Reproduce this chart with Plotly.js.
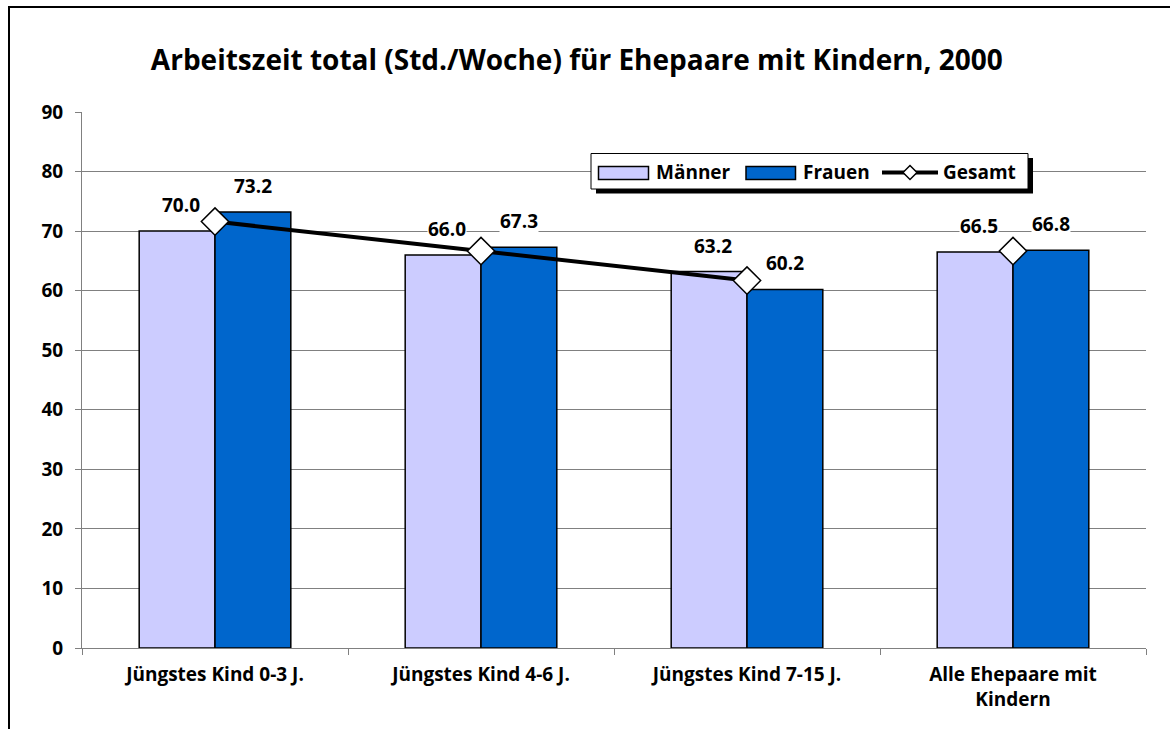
<!DOCTYPE html>
<html><head><meta charset="utf-8">
<script src="https://cdn.plot.ly/plotly-3.0.1.min.js"></script>
<style>body{margin:0;background:#fff}#c{width:1170px;height:729px}</style>
</head><body><div id="c"></div>
<script>
const categories = ["Jüngstes Kind 0-3 J.", "Jüngstes Kind 4-6 J.", "Jüngstes Kind 7-15 J.", "Alle Ehepaare mit<br>Kindern"];
const maenner = [70.0, 66.0, 63.2, 66.5];
const frauen = [73.2, 67.3, 60.2, 66.8];
const gesamt = [71.6, 66.65, 61.7, 66.65];
const yTicks = [0, 10, 20, 30, 40, 50, 60, 70, 80, 90];
const seriesNames = ["Männer", "Frauen", "Gesamt"];
const colMaenner = '#CCCCFF', colFrauen = '#0066CC';

const FONT = "Open Sans, Noto Sans, sans-serif";
const M = {l:82, r:24, t:112, b:81};
const W = 1170, H = 729;
const PW = W - M.l - M.r, PH = H - M.t - M.b;
const px = v => (v - M.l) / PW;
const py = v => (H - M.b - v) / PH;

const traces = [
  {type:'bar', name:seriesNames[0], x:categories, y:maenner,
   marker:{color:colMaenner, line:{color:'#000', width:1.5}}},
  {type:'bar', name:seriesNames[1], x:categories, y:frauen,
   marker:{color:colFrauen, line:{color:'#000', width:1.5}}},
  {type:'scatter', mode:'lines+markers', name:seriesNames[2], x:categories.slice(0,3), y:gesamt.slice(0,3),
   line:{color:'#000', width:4},
   marker:{symbol:'diamond', size:21, color:'#fff', line:{color:'#000', width:1.5}}},
  {type:'scatter', mode:'markers', name:seriesNames[2], x:categories.slice(3), y:gesamt.slice(3),
   marker:{symbol:'diamond', size:21, color:'#fff', line:{color:'#000', width:1.5}}}
];

const lblFont = {family:FONT, size:19, color:'#000', weight:'bold'};
const annotations = [];
categories.forEach((c,i)=>{
  annotations.push({x:c, y:maenner[i], text:maenner[i].toFixed(1), showarrow:false, xshift:-34, yshift:26,
    bgcolor:'#fff', borderpad:0, font:lblFont});
  annotations.push({x:c, y:frauen[i], text:frauen[i].toFixed(1), showarrow:false, xshift:38, yshift:26,
    bgcolor:'#fff', borderpad:0, font:lblFont});
});

// custom legend (pixel geometry converted to paper coords)
const legFont = {family:FONT, size:19, color:'#000', weight:'bold'};
const shapes = [
  {type:'path', xref:'paper', yref:'paper', path:`M ${px(9)},${py(760)} L ${px(9)},${py(7)} L ${px(1200)},${py(7)}`,
   line:{color:'#000', width:2}},
  {type:'rect', xref:'paper', yref:'paper', x0:px(596), x1:px(1033), y0:py(193.5), y1:py(158),
   fillcolor:'#000', line:{width:0}},
  {type:'rect', xref:'paper', yref:'paper', x0:px(591), x1:px(1028), y0:py(189), y1:py(153.5),
   fillcolor:'#fff', line:{color:'#000', width:1}},
  {type:'rect', xref:'paper', yref:'paper', x0:px(598.5), x1:px(648.5), y0:py(179.5), y1:py(166.5),
   fillcolor:colMaenner, line:{color:'#000', width:1.5}},
  {type:'rect', xref:'paper', yref:'paper', x0:px(746), x1:px(795.5), y0:py(179.5), y1:py(166.5),
   fillcolor:colFrauen, line:{color:'#000', width:1.5}},
  {type:'line', xref:'paper', yref:'paper', x0:px(882), x1:px(938), y0:py(172.5), y1:py(172.5),
   line:{color:'#000', width:4}},
  {type:'path', xref:'paper', yref:'paper',
   path:`M ${px(903)},${py(172.5)} L ${px(910)},${py(165.5)} L ${px(917)},${py(172.5)} L ${px(910)},${py(179.5)} Z`,
   fillcolor:'#fff', line:{color:'#000', width:1.5}}
];
[[655, seriesNames[0]], [802, seriesNames[1]], [942, seriesNames[2]]].forEach(([x,t])=>{
  annotations.push({xref:'paper', yref:'paper', x:px(x), y:py(172), xanchor:'left', yanchor:'middle',
    text:t, showarrow:false, borderpad:0, font:legFont});
});

const layout = {
  width:W, height:H, margin:M,
  paper_bgcolor:'#fff', plot_bgcolor:'#fff',
  font:{family:FONT, color:'#000'},
  title:{text:'<b>Arbeitszeit total (Std./Woche) für Ehepaare mit Kindern, 2000</b>',
    font:{family:FONT, size:28, color:'#000'}, x:0.493, xanchor:'center', y:0.918, yanchor:'middle'},
  barmode:'group', bargap:0.43, bargroupgap:0,
  showlegend:false,
  xaxis:{type:'category', showgrid:false, showline:true, linecolor:'#808080', linewidth:1,
    ticks:'outside', tickson:'boundaries', ticklen:6, tickcolor:'#808080', ticklabelstandoff:9,
    tickfont:{family:FONT, size:19, color:'#000', weight:'bold'}},
  yaxis:{range:[0,90], tickvals:yTicks, ticktext:yTicks.map(String), showgrid:true, gridcolor:'#808080', gridwidth:1,
    showline:true, linecolor:'#808080', linewidth:1, ticks:'outside', ticklen:6, tickcolor:'#808080',
    ticklabelstandoff:8, zeroline:false, tickfont:{family:FONT, size:19, color:'#000', weight:'bold'}},
  annotations:annotations,
  shapes:shapes
};
Plotly.newPlot('c', traces, layout, {staticPlot:true});
</script></body></html>
